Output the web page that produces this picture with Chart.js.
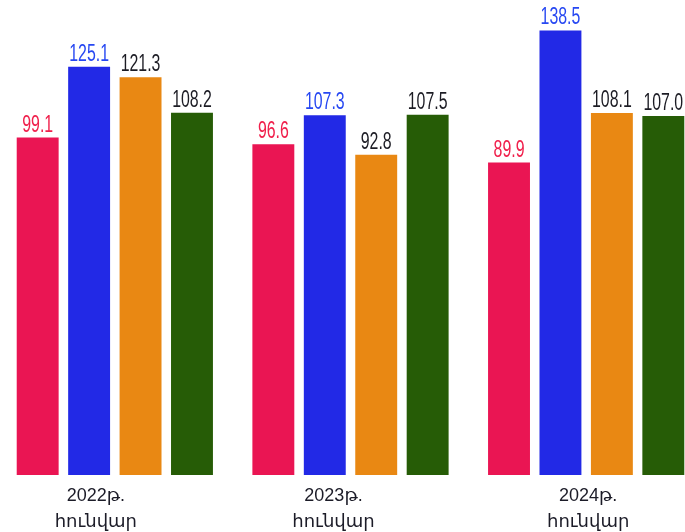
<!DOCTYPE html>
<html>
<head>
<meta charset="utf-8">
<script src="https://cdn.jsdelivr.net/npm/chart.js@4/dist/chart.umd.min.js"></script>
<style>
  html, body { margin: 0; padding: 0; background: #ffffff; overflow: hidden; }
  body { width: 685px; height: 532px; position: relative; }
  #wrap { position: absolute; left: -3px; top: 0; width: 707px; height: 532px; }
</style>
</head>
<body>
<div id="wrap"><canvas id="c"></canvas></div>
<script>
// ---- data ----
const yearLabels = ["2022թ.", "2023թ.", "2024թ."];
const monthLabel = "հունվար";
const series1 = [99.1, 96.6, 89.9];
const series2 = [125.1, 107.3, 138.5];
const series3 = [121.3, 92.8, 108.1];
const series4 = [108.2, 107.5, 107.0];

// ---- style ----
const barColors = ["#EA1553", "#2229E6", "#E98813", "#265C06"];
const labelColors = ["#F0204C", "#2748F2", "#1c1c24", "#1c1c24"];
const yMin = -25, yMax = 140.5;
const tickShift = [-19, -17, 2];

const valueLabels = {
  id: 'valueLabels',
  afterDatasetsDraw(chart) {
    const ctx = chart.ctx;
    ctx.save();
    ctx.font = '23px "Liberation Sans", Arial, sans-serif';
    ctx.textAlign = 'center';
    ctx.textBaseline = 'alphabetic';
    chart.data.datasets.forEach((ds, di) => {
      const meta = chart.getDatasetMeta(di);
      meta.data.forEach((bar, i) => {
        const v = ds.data[i];
        ctx.save();
        ctx.translate(bar.x, bar.y - 6);
        ctx.scale(0.69, 1);
        ctx.fillStyle = labelColors[di];
        ctx.fillText(v.toFixed(1), 0, 0);
        ctx.restore();
      });
    });
    ctx.restore();
  }
};

const xLabels = {
  id: 'xLabels',
  afterDraw(chart) {
    const ctx = chart.ctx;
    const xs = chart.scales.x;
    ctx.save();
    ctx.font = '18px "Liberation Sans", "DejaVu Sans", Arial, sans-serif';
    ctx.textAlign = 'center';
    ctx.textBaseline = 'alphabetic';
    ctx.fillStyle = '#1c1c28';
    yearLabels.forEach((lab, i) => {
      const x = xs.getPixelForValue(i) + tickShift[i];
      ctx.fillText(lab, x, 501);
      ctx.fillText(monthLabel, x, 527);
    });
    ctx.restore();
  }
};

const mk = (data, i) => ({
  data: data,
  backgroundColor: barColors[i],
  borderWidth: 0,
  base: yMin,
  barPercentage: 0.815,
  categoryPercentage: 0.873
});

new Chart(document.getElementById('c'), {
  type: 'bar',
  data: {
    labels: yearLabels,
    datasets: [mk(series1, 0), mk(series2, 1), mk(series3, 2), mk(series4, 3)]
  },
  options: {
    responsive: true,
    maintainAspectRatio: false,
    animation: false,
    layout: { padding: { top: 25, bottom: 57, left: 0, right: 0 } },
    plugins: { legend: { display: false }, tooltip: { enabled: false } },
    scales: {
      x: { display: false },
      y: { display: false, min: yMin, max: yMax }
    }
  },
  plugins: [valueLabels, xLabels]
});
</script>
</body>
</html>
